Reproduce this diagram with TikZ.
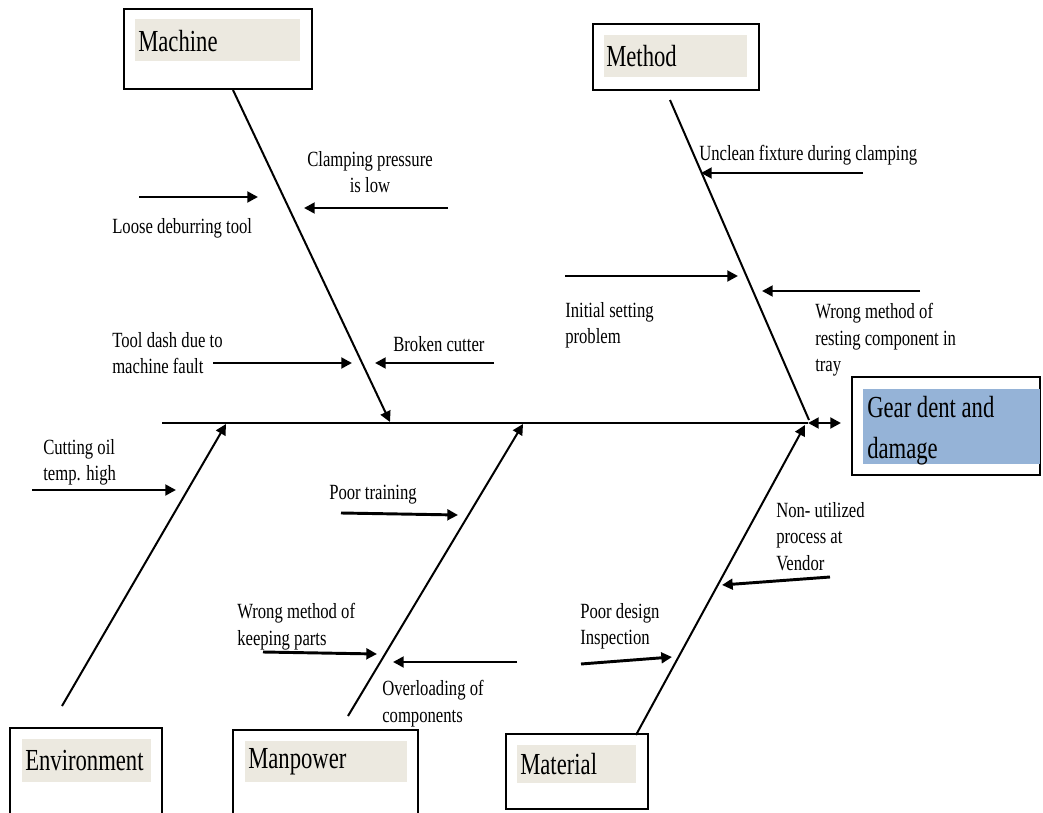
\documentclass[tikz,border=0pt]{standalone}
\usepackage{fontspec}
\setmainfont{Liberation Serif}
\usepackage{graphicx}
\usetikzlibrary{arrows.meta,fit}
\definecolor{labfill}{HTML}{ECE9E0}
\definecolor{gearfill}{HTML}{95B3D7}
\newcommand\vst[1]{\scalebox{1}[1.3]{#1}}
\newcommand\vbx[1]{\scalebox{1}[1.35]{#1}}
\begin{document}
\begin{tikzpicture}[x=0.75pt,y=-0.75pt,
  frame/.style={draw, line width=1.4pt, inner sep=0pt},
  labbg/.style={fill=labfill, inner sep=0pt},
  boxtext/.style={font=\fontsize{17}{31}\selectfont, anchor=west, inner sep=0pt, align=left},
  cause/.style={font=\fontsize{12.5}{20}\selectfont, inner sep=0pt, align=left, anchor=north west},
  tip/.style={-{Triangle[length=8pt,width=8pt]}},
  bone/.style={line width=1.5pt},
  carrow/.style={line width=2.2pt, tip},
]
\useasboundingbox (0,0) rectangle (1043,813);

% ---- category boxes ----
\node[frame, fit={(124,9) (312,89)}] (machine) {};
\node[labbg, fit={(135,19) (300,61)}] (machinebg) {};
\node[boxtext] (machinetxt) at (138,41) {\vbx{Machine}};

\node[frame, fit={(593,24) (759,90)}] (method) {};
\node[labbg, fit={(604,35) (747,77)}] (methodbg) {};
\node[boxtext] (methodtxt) at (606,56) {\vbx{Method}};

\node[frame, fit={(852,377) (1040,475)}] (gear) {};
\node[fill=gearfill, inner sep=0pt, fit={(863,389) (1040,464)}] (gearbg) {};
\node[boxtext, anchor=north west] (geartxt) at (867,396) {\vbx{Gear dent and}\\\vbx{damage}};

\node[frame, fit={(10,728) (162,840)}] (environment) {};
\node[labbg, fit={(22,739) (151,782)}] (environmentbg) {};
\node[boxtext] (environmenttxt) at (25,761) {\vbx{Environment}};

\node[frame, fit={(233,730) (418,840)}] (manpower) {};
\node[labbg, fit={(245,741) (407,782)}] (manpowerbg) {};
\node[boxtext] (manpowertxt) at (248,762) {\vbx{Manpower}};

\node[frame, fit={(506,734) (648,809)}] (material) {};
\node[labbg, fit={(517,745) (636,783)}] (materialbg) {};
\node[boxtext] (materialtxt) at (520,764) {\vbx{Material}};

% ---- spine ----
\coordinate (spineL) at (162,423);
\coordinate (spineR) at (808,423);
\coordinate (effect) at (841,423);
\draw[line width=2.2pt] (spineL) -- (spineR);
\draw[line width=2.2pt, {Triangle[length=8pt,width=8pt]}-{Triangle[length=8pt,width=8pt]}] (spineR) -- (effect);

% ---- bones ----
\coordinate (machineT) at (233,90);   \coordinate (machineH) at (390,422);
\coordinate (methodT) at (670,100);   \coordinate (methodH) at (809,420);
\coordinate (envT) at (62,706);       \coordinate (envH) at (226,424);
\coordinate (manT) at (348,716);      \coordinate (manH) at (523,424);
\coordinate (matT) at (636,735);      \coordinate (matH) at (805,425);
\draw[bone, tip] (machineT) -- (machineH);
\draw[bone] (methodT) -- (methodH);
\draw[bone, tip] (envT) -- (envH);
\draw[bone, tip] (manT) -- (manH);
\draw[bone, tip] (matT) -- (matH);

% ---- causes: Machine ----
\node[cause] (c1) at (112,218) {\vst{Loose deburring tool}};
\coordinate (c1a) at (139,197); \coordinate (c1b) at (258,197);
\draw[carrow] (c1a) -- (c1b);

\node[cause, anchor=north, align=center] (c2) at (370,151) {\vst{Clamping pressure}\\\vst{is low}};
\coordinate (c2a) at (448,208); \coordinate (c2b) at (304,208);
\draw[carrow] (c2a) -- (c2b);

\node[cause] (c3) at (112,332) {\vst{Tool dash due to}\\\vst{machine fault}};
\coordinate (c3a) at (213,363); \coordinate (c3b) at (352,363);
\draw[carrow] (c3a) -- (c3b);

\node[cause] (c4) at (393,336) {\vst{Broken cutter}};
\coordinate (c4a) at (494,363); \coordinate (c4b) at (375,363);
\draw[carrow] (c4a) -- (c4b);

% ---- causes: Method ----
\node[cause] (c5) at (699,145) {\vst{Unclean fixture during clamping}};
\coordinate (c5a) at (863,173); \coordinate (c5b) at (701,173);
\draw[carrow] (c5a) -- (c5b);

\node[cause] (c6) at (565,302) {\vst{Initial setting}\\\vst{problem}};
\coordinate (c6a) at (565,276); \coordinate (c6b) at (738,276);
\draw[carrow] (c6a) -- (c6b);

\node[cause] (c7) at (815,303) {\vst{Wrong method of}\\\vst{resting component in}\\\vst{tray}};
\coordinate (c7a) at (920,291); \coordinate (c7b) at (762,291);
\draw[carrow] (c7a) -- (c7b);

% ---- causes: Environment ----
\node[cause] (c8) at (43,439) {\vst{Cutting oil}\\\vst{temp. high}};
\coordinate (c8a) at (32,490); \coordinate (c8b) at (176,490);
\draw[carrow] (c8a) -- (c8b);

% ---- causes: Manpower ----
\node[cause] (c9) at (329,485) {\vst{Poor training}};
\coordinate (c9a) at (341,513); \coordinate (c9b) at (458,515);
\draw[carrow] (c9a) -- (c9b);

\node[cause] (c10) at (237,603) {\vst{Wrong method of}\\\vst{keeping parts}};
\coordinate (c10a) at (263,652); \coordinate (c10b) at (377,654);
\draw[carrow] (c10a) -- (c10b);

\node[cause] (c11) at (382,680) {\vst{Overloading of}\\\vst{components}};
\coordinate (c11a) at (517,662); \coordinate (c11b) at (393,662);
\draw[carrow] (c11a) -- (c11b);

% ---- causes: Material ----
\node[cause] (c12) at (580,603) {\vst{Poor design}\\\vst{Inspection}};
\coordinate (c12a) at (581,664); \coordinate (c12b) at (672,657);
\draw[carrow] (c12a) -- (c12b);

\node[cause] (c13) at (776,502) {\vst{Non- utilized}\\\vst{process at}\\\vst{Vendor}};
\coordinate (c13a) at (830,577); \coordinate (c13b) at (722,585);
\draw[carrow] (c13a) -- (c13b);
\end{tikzpicture}
\end{document}
